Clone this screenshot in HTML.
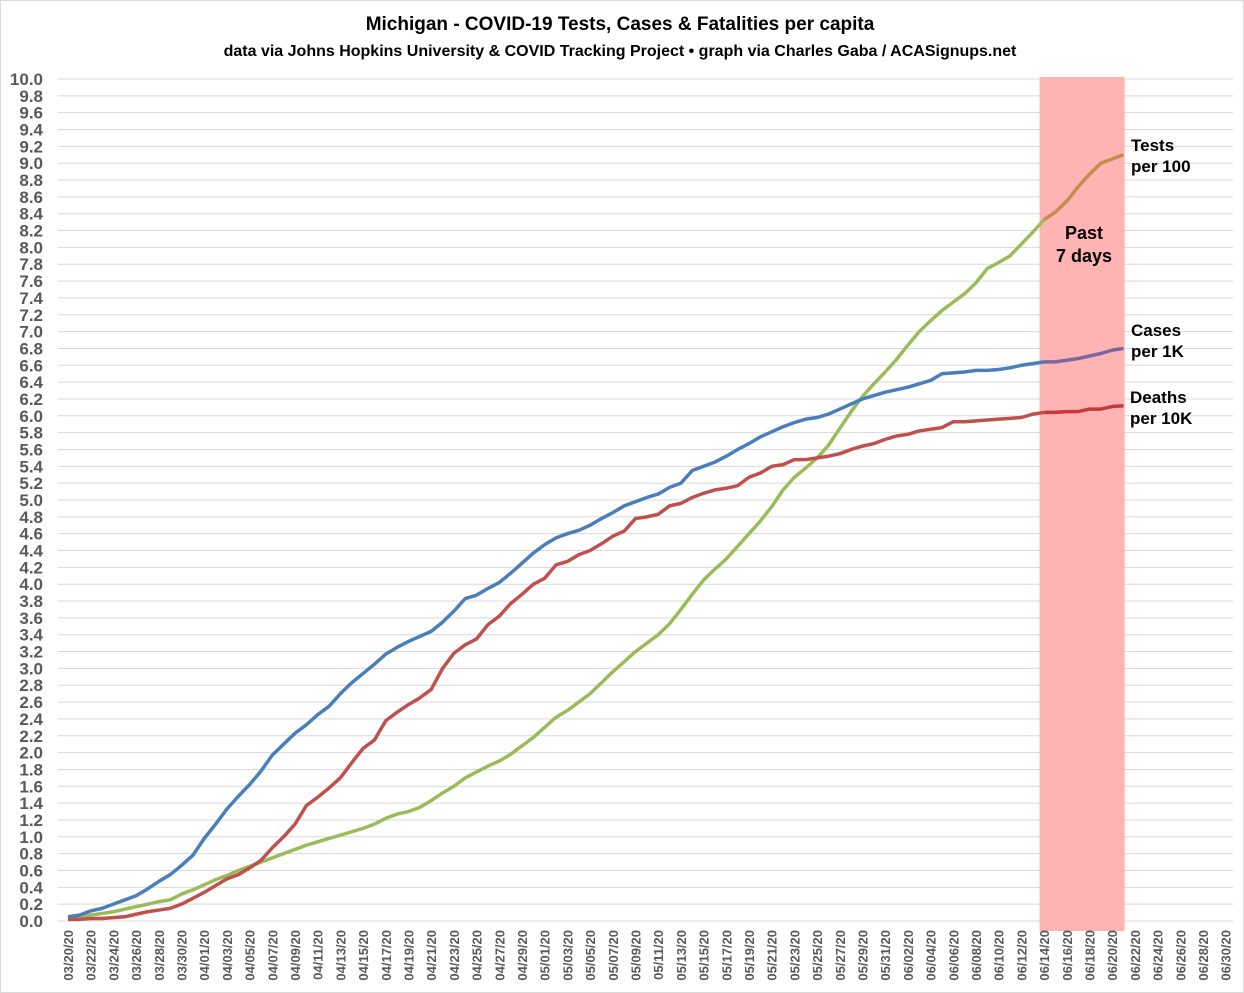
<!DOCTYPE html>
<html><head><meta charset="utf-8"><style>
body{margin:0;background:#fff}
svg{display:block;font-family:"Liberation Sans",sans-serif}
</style></head><body>
<svg id="chart" width="1244" height="993" viewBox="0 0 1244 993">
<rect x="0.5" y="0.5" width="1243" height="992" fill="#fff" stroke="#d9d9d9"/>
<text x="620" y="30" text-anchor="middle" font-size="19" font-weight="bold" fill="#000">Michigan - COVID-19 Tests, Cases &amp; Fatalities per capita</text>
<text x="620" y="56" text-anchor="middle" font-size="16" font-weight="bold" fill="#000">data via Johns Hopkins University &amp; COVID Tracking Project • graph via Charles Gaba / ACASignups.net</text>
<g id="grid"></g><g id="band"></g><g id="lines"></g><g id="ylab"></g><g id="xlab"></g>
<text x="1131" y="151" font-size="17" font-weight="bold">Tests</text>
<text x="1131" y="172" font-size="17" font-weight="bold">per 100</text>
<text x="1131" y="336" font-size="17" font-weight="bold">Cases</text>
<text x="1131" y="357" font-size="17" font-weight="bold">per 1K</text>
<text x="1130" y="403" font-size="17" font-weight="bold">Deaths</text>
<text x="1130" y="424" font-size="17" font-weight="bold">per 10K</text>
<text x="1084" y="239" text-anchor="middle" font-size="18" font-weight="bold">Past</text>
<text x="1084" y="262" text-anchor="middle" font-size="18" font-weight="bold">7 days</text>
</svg>
<script>
const dateLabels=["03/20/20","03/22/20","03/24/20","03/26/20","03/28/20","03/30/20","04/01/20","04/03/20","04/05/20","04/07/20","04/09/20","04/11/20","04/13/20","04/15/20","04/17/20","04/19/20","04/21/20","04/23/20","04/25/20","04/27/20","04/29/20","05/01/20","05/03/20","05/05/20","05/07/20","05/09/20","05/11/20","05/13/20","05/15/20","05/17/20","05/19/20","05/21/20","05/23/20","05/25/20","05/27/20","05/29/20","05/31/20","06/02/20","06/04/20","06/06/20","06/08/20","06/10/20","06/12/20","06/14/20","06/16/20","06/18/20","06/20/20","06/22/20","06/24/20","06/26/20","06/28/20","06/30/20"];
const yTicks=[0,0.2,0.4,0.6,0.8,1,1.2,1.4,1.6,1.8,2,2.2,2.4,2.6,2.8,3,3.2,3.4,3.6,3.8,4,4.2,4.4,4.6,4.8,5,5.2,5.4,5.6,5.8,6,6.2,6.4,6.6,6.8,7,7.2,7.4,7.6,7.8,8,8.2,8.4,8.6,8.8,9,9.2,9.4,9.6,9.8,10];
const casesPer1K=[.05,.07,.12,.15,.2,.25,.3,.38,.47,.55,.66,.78,.98,1.15,1.33,1.48,1.62,1.78,1.97,2.1,2.23,2.33,2.45,2.55,2.7,2.83,2.94,3.05,3.17,3.25,3.32,3.38,3.44,3.55,3.68,3.83,3.87,3.95,4.02,4.13,4.25,4.37,4.47,4.55,4.6,4.64,4.7,4.78,4.85,4.93,4.98,5.03,5.07,5.15,5.2,5.35,5.4,5.45,5.52,5.6,5.67,5.75,5.81,5.87,5.92,5.96,5.98,6.02,6.08,6.14,6.2,6.24,6.28,6.31,6.34,6.38,6.42,6.5,6.51,6.52,6.54,6.54,6.55,6.57,6.6,6.62,6.64,6.64,6.66,6.68,6.71,6.74,6.78,6.8];
const deathsPer10K=[.02,.02,.03,.03,.04,.05,.08,.11,.13,.15,.2,.27,.34,.42,.5,.55,.63,.72,.87,1.0,1.15,1.37,1.47,1.58,1.7,1.88,2.05,2.15,2.38,2.48,2.57,2.65,2.75,3.0,3.18,3.28,3.35,3.52,3.62,3.77,3.88,4.0,4.07,4.23,4.27,4.35,4.4,4.48,4.57,4.63,4.78,4.8,4.83,4.93,4.96,5.03,5.08,5.12,5.14,5.17,5.27,5.32,5.4,5.42,5.48,5.48,5.5,5.52,5.55,5.6,5.64,5.67,5.72,5.76,5.78,5.82,5.84,5.86,5.93,5.93,5.94,5.95,5.96,5.97,5.98,6.02,6.04,6.04,6.05,6.05,6.08,6.08,6.11,6.12];
const testsPer100=[.04,.06,.07,.09,.11,.14,.17,.2,.23,.25,.32,.37,.43,.49,.54,.6,.65,.7,.75,.8,.85,.9,.94,.98,1.02,1.06,1.1,1.15,1.22,1.27,1.3,1.35,1.43,1.52,1.6,1.7,1.77,1.84,1.9,1.98,2.08,2.18,2.3,2.42,2.5,2.6,2.7,2.83,2.96,3.08,3.2,3.3,3.4,3.53,3.7,3.88,4.05,4.18,4.3,4.45,4.6,4.75,4.92,5.12,5.27,5.38,5.5,5.65,5.85,6.05,6.23,6.38,6.52,6.67,6.84,7.0,7.13,7.25,7.35,7.45,7.58,7.75,7.82,7.9,8.04,8.18,8.33,8.42,8.55,8.72,8.87,9.0,9.05,9.1];
const bandStartDay=85.6, bandEndDay=93.1, recentStart=86;

const NS="http://www.w3.org/2000/svg";
const X0=58,X1=1233,Y0=921,Y1=79;
const xs=d=>68+d*11.35;
const ys=v=>Y0-(v/10)*(Y0-Y1);
function mk(tag,attrs,parent){const e=document.createElementNS(NS,tag);for(const k in attrs)e.setAttribute(k,attrs[k]);document.getElementById(parent).appendChild(e);return e;}

yTicks.forEach(t=>{
  const l=mk('line',{x1:X0,x2:X1,y1:ys(t),y2:ys(t),stroke:'#d9d9d9','stroke-width':1},'grid');
  
  
  const tx=mk('text',{x:43,y:ys(t)+6,'text-anchor':'end','font-size':17,'font-weight':'bold',fill:'#595959'},'ylab');
  tx.textContent=t.toFixed(1);
  
  
});
dateLabels.forEach((s,i)=>{
  const x=xs(i*2);
  const tx=mk('text',{transform:`translate(${x+5},930) rotate(-90)`,'text-anchor':'end','font-size':13,'font-weight':'bold',fill:'#595959'},'xlab');
  tx.textContent=s;
  
  
});
const band=mk('rect',{x:xs(bandStartDay),y:77,width:xs(bandEndDay)-xs(bandStartDay),height:Y0+10-77,fill:'#ffb3b3'},'band');



function series(arr,c1,c2,name){
  const p1=arr.slice(0,recentStart+1).map((v,i)=>`${xs(i)},${ys(v)}`).join(' ');
  const p2=arr.slice(recentStart).map((v,i)=>`${xs(i+recentStart)},${ys(v)}`).join(' ');
  const a=mk('polyline',{points:p1,fill:'none',stroke:c1,'stroke-width':3.5,'stroke-linejoin':'round'},'lines');
  
  
  const b=mk('polyline',{points:p2,fill:'none',stroke:c2,'stroke-width':3.5,'stroke-linejoin':'round'},'lines');
  
  
}
series(testsPer100,'#9bbb59','#c58c4c','tests-per-100');
series(casesPer1K,'#4a7ebb','#7b66a0','cases-per-1k');
series(deathsPer10K,'#c0504d','#c8383a','deaths-per-10k');
</script>
</body></html>
